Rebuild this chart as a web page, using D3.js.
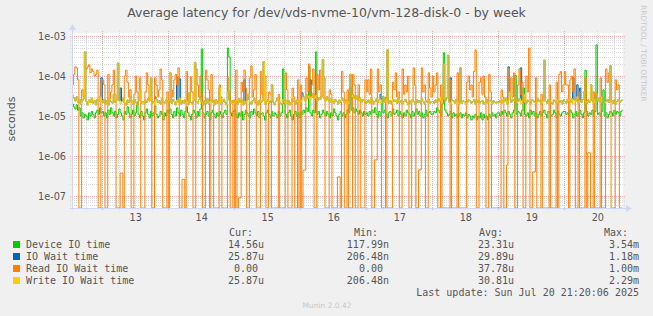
<!DOCTYPE html>
<html lang="en">
<head>
<meta charset="UTF-8">
<title>Average latency for /dev/vds-nvme-10/vm-128-disk-0 - by week</title>
<script src="https://d3js.org/d3.v7.min.js"></script>
<style>
    body { margin: 0; background: #f0f0f0; }
    svg { display: block; }
    .sans { font-family: "DejaVu Sans", sans-serif; fill: #555; }
    .mono { font-family: "DejaVu Sans Mono", monospace; fill: #555; font-size: 10px; }
</style>
</head>
<body>
<div id="chart"></div>
<script>
// 30 minute averages in microseconds, first sample Jul 12 13:00, last Jul 20 21:00
// one row per day (first row starts at 13:00, last row ends at 21:00)
const firstSample = Date.UTC(2025, 6, 12, 13);
const lastUpdate = Date.UTC(2025, 6, 20, 21, 20);

const deviceIO = [
    20, 17, 15, 19, 14, 16, 10, 12, 9, 11, 10, 8, 12, 10, 13, 11, 9, 12, 14, 11, 16, 12,
    13, 10, 12, 9, 14, 11, 16, 12, 10, 13, 9, 11, 15, 12, 10, 8, 13, 11, 17, 12, 9, 11, 14, 10, 12, 22, 11, 9, 13, 10, 8, 12, 15, 11, 9, 13, 10, 12, 18, 11, 9, 10, 13, 11, 8, 12, 10, 14,
    12, 15, 11, 9, 13, 10, 16, 12, 10, 14, 11, 9, 13, 17, 12, 10, 8, 11, 14, 12, 9, 13, 10, 15, 473, 12, 9, 11, 13, 10, 8, 12, 14, 11, 9, 12, 10, 13, 11, 9, 12, 14, 11, 500, 300, 12, 10, 13,
    14, 11, 9, 12, 10, 13, 8, 11, 14, 12, 10, 9, 13, 11, 15, 12, 10, 13, 9, 11, 12, 10, 8, 12, 14, 11, 9, 13, 10, 12, 11, 9, 13, 10, 12, 150, 20, 11, 9, 12, 14, 10, 8, 11, 13, 10, 12, 9,
    13, 11, 14, 12, 16, 13, 170, 12, 10, 14, 12, 400, 11, 13, 9, 11, 14, 12, 10, 13, 11, 9, 12, 10, 15, 12, 10, 8, 11, 13, 10, 12, 9, 11, 14, 12, 50, 14, 16, 12, 15, 13, 11, 14, 12, 10, 13, 11,
    12, 10, 13, 11, 14, 12, 16, 11, 9, 13, 10, 30, 12, 14, 11, 9, 12, 13, 10, 15, 11, 12, 14, 10, 13, 11, 9, 12, 10, 14, 12, 11, 9, 13, 10, 12, 15, 11, 13, 10, 12, 9, 11, 14, 10, 12, 13, 11,
    11, 13, 12, 16, 14, 12, 10, 20, 380, 14, 12, 10, 11, 13, 9, 12, 10, 11, 9, 10, 12, 9, 11, 10, 12, 9, 11, 10, 8, 10, 9, 11, 8, 10, 9, 12, 8, 11, 9, 10, 8, 11, 9, 12, 10, 11, 9, 12,
    12, 10, 13, 11, 14, 12, 10, 13, 11, 9, 12, 14, 105, 11, 13, 12, 10, 14, 50, 11, 10, 12, 9, 14, 11, 13, 10, 12, 9, 11, 13, 10, 12, 14, 11, 9, 13, 12, 10, 11, 14, 12, 9, 13, 11, 10, 12, 13,
    13, 11, 12, 10, 14, 12, 9, 11, 13, 10, 12, 14, 11, 9, 12, 140, 13, 10, 12, 11, 14, 10, 13, 600, 11, 12, 10, 13, 45, 10, 12, 9, 11, 13, 12, 10, 14, 11, 13, 12, 10, 13, 14.56
];

const ioWait = [
    32, 28, 24, 30, 22, 26, 20, 24, 27, 400, 23, 19, 25, 22, 28, 21, 24, 19, 26, 23, 30, 90,
    22, 26, 20, 24, 19, 27, 23, 21, 35, 22, 25, 210, 24, 50, 23, 28, 21, 19, 25, 22, 30, 24, 20, 26, 22, 19, 24, 45, 21, 23, 20, 25, 22, 27, 24, 89, 21, 23, 30, 26, 22, 24, 20, 28, 23, 21, 25, 22,
    24, 120, 21, 26, 23, 19, 95, 22, 85, 20, 24, 21, 26, 23, 19, 38, 22, 20, 24, 220, 23, 21, 26, 30, 22, 19, 24, 21, 27, 20, 23, 25, 22, 19, 26, 21, 24, 50, 20, 23, 26, 22, 19, 40, 25, 21, 24, 22,
    21, 24, 20, 27, 22, 26, 19, 80, 21, 25, 35, 22, 20, 24, 28, 21, 23, 19, 25, 22, 24, 230, 20, 23, 26, 21, 24, 60, 22, 19, 23, 28, 24, 21, 20, 26, 23, 25, 21, 24, 19, 22, 27, 23, 20, 25, 22, 24,
    22, 38, 30, 24, 35, 28, 32, 80, 30, 36, 27, 33, 24, 29, 26, 31, 260, 28, 24, 30, 25, 22, 27, 24, 21, 26, 23, 20, 25, 22, 28, 24, 21, 26, 23, 20, 110, 30, 34, 28, 26, 32, 24, 28, 22, 26, 24, 21,
    22, 25, 21, 28, 24, 20, 23, 27, 22, 26, 35, 24, 30, 22, 25, 450, 21, 24, 20, 26, 23, 25, 21, 28, 22, 24, 20, 23, 26, 22, 19, 24, 21, 25, 23, 20, 26, 22, 24, 21, 27, 23, 20, 24, 22, 26, 21, 23,
    23, 21, 25, 22, 27, 24, 30, 26, 200, 24, 28, 330, 22, 90, 25, 24, 21, 26, 23, 20, 160, 21, 24, 23, 20, 22, 25, 24, 21, 23, 26, 20, 22, 25, 21, 23, 24, 20, 22, 26, 21, 23, 25, 20, 24, 22, 21, 23,
    22, 24, 21, 26, 23, 28, 20, 170, 40, 22, 26, 24, 30, 21, 23, 27, 160, 24, 35, 22, 21, 25, 23, 20, 26, 24, 22, 21, 27, 23, 25, 20, 24, 250, 23, 21, 26, 24, 22, 20, 25, 23, 21, 26, 22, 24, 20, 25,
    23, 21, 26, 24, 22, 27, 90, 25, 23, 60, 21, 50, 22, 26, 40, 23, 21, 25, 22, 60, 24, 21, 26, 35, 23, 28, 22, 30, 24, 21, 23, 26, 22, 180, 24, 21, 25, 20, 23, 26, 22, 24, 25.87
];

const readWait = [
    60, 110, 170, 160, 80, 0, 0, 45, 30, 90, 150, 170, 190, 120, 150, 130, 100, 110, 140, 0, 0, 70,
    80, 60, 0, 0, 110, 25, 40, 60, 140, 35, 0, 0, 0, 0.37, 0.37, 0, 100, 140, 70, 30, 45, 0, 0, 35, 100, 40, 25, 90, 0, 0, 0, 40, 120, 60, 25, 30, 0, 0, 90, 60, 30, 45, 150, 80, 0, 0, 0, 40,
    0, 120, 45, 30, 80, 110, 60, 160, 0, 0, 0.26, 0.26, 0, 130, 20, 35, 95, 40, 0, 0, 150, 60, 30, 100, 35, 0, 0, 140, 80, 45, 0, 110, 25, 0, 0, 0, 0, 60, 30, 0, 0, 0, 0, 90, 40, 0, 0, 25,
    0, 140, 0, 0.09, 0.09, 70, 40, 140, 50, 0, 0, 90, 180, 30, 45, 110, 0, 0, 0, 130, 35, 60, 100, 0, 0, 40, 35, 0, 0, 0, 0, 0, 35, 0, 0, 0, 0, 120, 45, 0, 0, 0, 50, 30, 0, 0, 80, 0,
    60, 0, 0.44, 0.44, 90, 40, 200, 30, 60, 150, 0, 0, 110, 45, 140, 30, 40, 90, 0, 0, 0, 45, 35, 0, 0, 0, 0, 0.3, 0.3, 0, 130, 40, 0, 0, 45, 0, 0, 0, 110, 60, 0, 0, 60, 25, 0, 0, 0, 80,
    40, 80, 35, 150, 0, 0, 0.8, 0.8, 150, 40, 60, 0, 0, 0, 30, 0, 0, 0, 0, 70, 45, 120, 30, 40, 0, 0, 150, 35, 60, 40, 100, 0, 0, 25, 160, 60, 0, 0, 0.45, 0.45, 160, 40, 60, 0, 0, 120, 50, 30,
    100, 40, 60, 120, 0, 0, 60, 0, 0, 0, 0, 0, 0, 80, 0, 0, 0, 0, 120, 0, 0, 0, 0, 0, 0, 70, 100, 45, 60, 30, 130, 450, 0, 0, 70, 90, 35, 100, 30, 0, 0, 110, 40, 0, 0, 0, 0, 0,
    0, 0, 45, 30, 0, 0, 0.6, 150, 40, 90, 30, 120, 0, 0, 60, 150, 35, 70, 0, 0, 100, 40, 500, 0, 0, 0.4, 0.4, 90, 0, 0, 0, 35, 0, 0, 0, 0, 0, 60, 0, 0, 0, 0, 70, 0, 110, 130, 40, 60,
    130, 60, 60, 0, 80, 100, 40, 150, 0, 0, 40, 0, 0, 0, 0, 90, 0, 1.2, 1.2, 0, 0, 40, 0, 0, 0, 0, 90, 0, 0, 0, 150, 70, 120, 30, 0, 0, 0, 80, 45, 60, 0, 0, 0
];

const writeWait = [
    32, 28, 24, 30, 22, 26, 20, 24, 27, 400, 23, 19, 25, 22, 28, 21, 24, 19, 26, 23, 30, 25,
    22, 26, 20, 24, 19, 27, 23, 21, 35, 22, 25, 210, 24, 20, 23, 28, 21, 19, 25, 22, 30, 24, 20, 26, 22, 19, 24, 45, 21, 23, 20, 25, 22, 27, 24, 89, 21, 23, 19, 26, 22, 24, 20, 28, 23, 21, 25, 22,
    24, 120, 21, 26, 23, 19, 25, 22, 28, 20, 24, 21, 26, 23, 19, 38, 22, 20, 24, 220, 23, 21, 26, 30, 22, 19, 24, 21, 27, 20, 23, 25, 22, 19, 26, 21, 24, 50, 20, 23, 26, 22, 19, 40, 25, 21, 24, 22,
    21, 24, 20, 27, 22, 26, 19, 23, 21, 25, 35, 22, 20, 24, 28, 21, 23, 19, 25, 22, 24, 230, 20, 23, 26, 21, 24, 60, 22, 19, 23, 28, 24, 21, 20, 26, 23, 25, 21, 24, 19, 22, 27, 23, 20, 25, 22, 24,
    22, 26, 30, 24, 35, 28, 32, 25, 30, 36, 27, 33, 24, 29, 26, 31, 260, 28, 24, 30, 25, 22, 27, 24, 21, 26, 23, 20, 25, 22, 28, 24, 21, 26, 23, 20, 110, 30, 34, 28, 26, 32, 24, 28, 22, 26, 24, 21,
    22, 25, 21, 28, 24, 20, 23, 27, 22, 26, 21, 24, 30, 22, 25, 450, 21, 24, 20, 26, 23, 25, 21, 28, 22, 24, 20, 23, 26, 22, 19, 24, 21, 25, 23, 20, 26, 22, 24, 21, 27, 23, 20, 24, 22, 26, 21, 23,
    23, 21, 25, 22, 27, 24, 30, 26, 200, 24, 28, 330, 22, 20, 25, 24, 21, 26, 23, 20, 160, 21, 24, 23, 20, 22, 25, 24, 21, 23, 26, 20, 22, 25, 21, 23, 24, 20, 22, 26, 21, 23, 25, 20, 24, 22, 21, 23,
    22, 24, 21, 26, 23, 28, 20, 25, 40, 22, 26, 24, 30, 21, 23, 27, 20, 24, 35, 22, 21, 25, 23, 20, 26, 24, 22, 21, 27, 23, 25, 20, 24, 250, 23, 21, 26, 24, 22, 20, 25, 23, 21, 26, 22, 24, 20, 25,
    23, 21, 26, 24, 22, 27, 20, 25, 23, 30, 21, 24, 22, 26, 40, 23, 21, 25, 22, 60, 24, 21, 26, 35, 23, 28, 22, 30, 24, 21, 23, 26, 22, 180, 24, 21, 25, 20, 23, 26, 22, 24, 25.87
];

const seriesNames = ["Device IO time", "IO Wait time", "Read IO Wait time", "Write IO Wait time"];
const seriesColors = ["#00cc00", "#0066b3", "#ff8000", "#ffcc00"];
const curValues = ["14.56u", "25.87u", "0.00\u00a0", "25.87u"];
const minValues = ["117.99n", "206.48n", "0.00\u00a0", "206.48n"];
const avgValues = ["23.31u", "29.89u", "37.78u", "30.81u"];
const maxValues = ["3.54m", "1.18m", "1.00m", "2.29m"];
const columnHeads = ["Cur:", "Min:", "Avg:", "Max:"];

const yTicks = [1e-3, 1e-4, 1e-5, 1e-6, 1e-7];
const yTickLabels = ["1e-03", "1e-04", "1e-05", "1e-06", "1e-07"];
const dayLabels = ["13", "14", "15", "16", "17", "18", "19", "20"];

// layout
const W = 653, H = 316;
const pLeft = 72, pRight = 623, pTop = 33, pBottom = 208;
const STEP = 1800e3;

const svg = d3.select("#chart").append("svg")
    .attr("width", W)
    .attr("height", H);

svg.append("rect").attr("width", W).attr("height", H).attr("fill", "#f0f0f0");
svg.append("rect")
    .attr("x", pLeft).attr("y", pTop)
    .attr("width", pRight - pLeft).attr("height", pBottom - pTop)
    .attr("fill", "#ffffff");

const x = d3.scaleUtc()
    .domain([firstSample, lastUpdate])
    .range([pLeft, pRight]);

const yMin = 5.0e-8, yMax = 1.19e-3;
const y = d3.scaleLog()
    .domain([yMin, yMax])
    .range([pBottom, pTop])
    .clamp(true);

// grid
const grid = svg.append("g");
const minorY = [];
for (let e = -8; e <= -3; e++) {
    for (let k = 2; k <= 9; k++) {
        const v = k * Math.pow(10, e);
        if (v > yMin && v < yMax) minorY.push(v);
    }
}
const minorX = d3.utcHour.every(6).range(x.domain()[0], x.domain()[1])
    .filter(d => d.getUTCHours() !== 0);
const majorX = d3.utcDay.range(x.domain()[0], x.domain()[1]);

const minorColor = "#dadada", majorColor = "#eeaaaa";
grid.selectAll(".ymin").data(minorY).enter().append("line")
    .attr("x1", pLeft - 2).attr("x2", pRight + 2)
    .attr("y1", d => Math.round(y(d)) + 0.5).attr("y2", d => Math.round(y(d)) + 0.5)
    .attr("stroke", minorColor).attr("stroke-dasharray", "1,1");
grid.selectAll(".xmin").data(minorX).enter().append("line")
    .attr("x1", d => Math.round(x(d)) + 0.5).attr("x2", d => Math.round(x(d)) + 0.5)
    .attr("y1", pTop - 2).attr("y2", pBottom + 2)
    .attr("stroke", minorColor).attr("stroke-dasharray", "1,1");
grid.selectAll(".ymaj").data(yTicks).enter().append("line")
    .attr("x1", pLeft - 2).attr("x2", pRight + 2)
    .attr("y1", d => Math.round(y(d)) + 0.5).attr("y2", d => Math.round(y(d)) + 0.5)
    .attr("stroke", majorColor).attr("stroke-dasharray", "1,1");
grid.selectAll(".xmaj").data(majorX).enter().append("line")
    .attr("x1", d => Math.round(x(d)) + 0.5).attr("x2", d => Math.round(x(d)) + 0.5)
    .attr("y1", pTop - 2).attr("y2", pBottom + 2)
    .attr("stroke", majorColor).attr("stroke-dasharray", "1,1");

// data lines
svg.append("clipPath").attr("id", "plotclip")
    .append("rect")
    .attr("x", pLeft).attr("y", pTop - 1)
    .attr("width", pRight - pLeft).attr("height", pBottom - pTop + 1);

const line = d3.line()
    .x((d, i) => x(firstSample + i * STEP))
    .y(d => y(Math.max(d * 1e-6, yMin)))
    .curve(d3.curveStepAfter);

const plotG = svg.append("g").attr("clip-path", "url(#plotclip)");
[deviceIO, ioWait, readWait, writeWait].forEach((s, i) => {
    plotG.append("path")
        .datum(s)
        .attr("fill", "none")
        .attr("stroke", seriesColors[i])
        .attr("stroke-width", 1)
        .attr("d", line);
});

// axes
const axisColor = "#cfd6f8";
svg.append("line")
    .attr("x1", pLeft + 0.5).attr("x2", pLeft + 0.5)
    .attr("y1", pBottom + 2).attr("y2", pTop - 4)
    .attr("stroke", axisColor);
svg.append("path")
    .attr("d", `M${pLeft - 3},${pTop - 3}L${pLeft + 4},${pTop - 3}L${pLeft + 0.5},${pTop - 9}Z`)
    .attr("fill", axisColor);
svg.append("line")
    .attr("x1", pLeft - 2).attr("x2", pRight + 4)
    .attr("y1", pBottom + 0.5).attr("y2", pBottom + 0.5)
    .attr("stroke", axisColor);
svg.append("path")
    .attr("d", `M${pRight + 3},${pBottom - 3}L${pRight + 3},${pBottom + 4}L${pRight + 9},${pBottom + 0.5}Z`)
    .attr("fill", axisColor);

const yAxis = svg.append("g")
    .attr("transform", `translate(${pLeft},0)`)
    .call(d3.axisLeft(y).tickValues(yTicks)
        .tickFormat((d, i) => yTickLabels[i])
        .tickSize(0).tickPadding(6));
yAxis.select(".domain").remove();
yAxis.selectAll("text").attr("class", "sans").style("font-size", "9.7px");
yAxis.attr("font-family", null).attr("font-size", null);

const xAxis = svg.append("g")
    .attr("transform", `translate(0,${pBottom})`)
    .call(d3.axisBottom(x)
        .tickValues(dayLabels.map(d => new Date(Date.UTC(2025, 6, +d, 12))))
        .tickFormat((d, i) => dayLabels[i])
        .tickSize(0).tickPadding(6));
xAxis.select(".domain").remove();
xAxis.selectAll("text").attr("class", "sans").style("font-size", "9.7px");
xAxis.attr("font-family", null).attr("font-size", null);

// title and labels
svg.append("text")
    .attr("class", "sans")
    .attr("x", 326.5).attr("y", 17)
    .attr("text-anchor", "middle")
    .style("font-size", "12.5px")
    .text("Average latency for /dev/vds-nvme-10/vm-128-disk-0 - by week");

svg.append("text")
    .attr("class", "sans")
    .attr("transform", "translate(15,119) rotate(-90)")
    .attr("text-anchor", "middle")
    .style("font-size", "11px")
    .text("seconds");

svg.append("text")
    .attr("transform", "translate(641,5) rotate(90)")
    .attr("font-family", "DejaVu Sans, sans-serif")
    .style("font-size", "7.5px")
    .attr("fill", "#c8c8c8")
    .text("RRDTOOL / TOBI OETIKER");

// legend
const colEnd = [265, 390, 515, 640];
const legend = svg.append("g");
columnHeads.forEach((h, c) => {
    legend.append("text").attr("class", "mono")
        .attr("x", colEnd[c] - 36).attr("y", 236)
        .text(h);
});
const columns = [curValues, minValues, avgValues, maxValues];
seriesNames.forEach((name, i) => {
    const by = 248 + i * 12;
    legend.append("rect")
        .attr("x", 13).attr("y", by - 7)
        .attr("width", 7).attr("height", 7)
        .attr("fill", seriesColors[i]);
    legend.append("text").attr("class", "mono")
        .attr("x", 26).attr("y", by)
        .text(name);
    columns.forEach((col, c) => {
        legend.append("text").attr("class", "mono")
            .attr("x", colEnd[c] - 1).attr("y", by)
            .attr("text-anchor", "end")
            .text(col[i]);
    });
});
legend.append("text").attr("class", "mono")
    .attr("x", 639).attr("y", 296)
    .attr("text-anchor", "end")
    .text("Last update: Sun Jul 20 21:20:06 2025");

svg.append("text")
    .attr("x", 327).attr("y", 308)
    .attr("text-anchor", "middle")
    .attr("font-family", "DejaVu Sans, sans-serif")
    .style("font-size", "7.5px")
    .attr("fill", "#c8c8c8")
    .text("Munin 2.0.42");
</script>
</body>
</html>
